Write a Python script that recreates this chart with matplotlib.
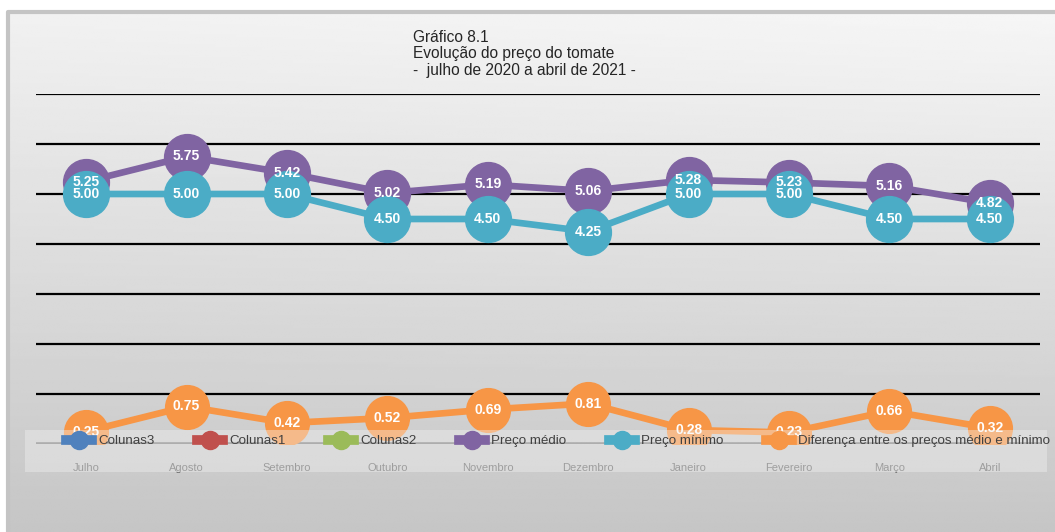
import numpy as np
import matplotlib as mpl
mpl.use("Agg")
import matplotlib.pyplot as plt
from matplotlib.lines import Line2D
from matplotlib.patches import Rectangle

plt.rcParams["font.family"] = ["Liberation Sans", "DejaVu Sans"]

# data
meses = ["Julho", "Agosto", "Setembro", "Outubro", "Novembro", "Dezembro",
         "Janeiro", "Fevereiro", "Março", "Abril"]
preco_medio = [5.25, 5.75, 5.42, 5.02, 5.19, 5.06, 5.28, 5.23, 5.16, 4.82]
preco_minimo = [5.00, 5.00, 5.00, 4.50, 4.50, 4.25, 5.00, 5.00, 4.50, 4.50]
diferenca = [0.25, 0.75, 0.42, 0.52, 0.69, 0.81, 0.28, 0.23, 0.66, 0.32]

legend_names = ["Colunas3", "Colunas1", "Colunas2", "Preço médio",
                "Preço mínimo", "Diferença entre os preços médio e mínimo"]
legend_colors = ["#4f81bd", "#c0504d", "#9bbb59", "#8064a2", "#4bacc6",
                 "#f79646"]

W, H = 1055, 532
fig = plt.figure(figsize=(W / 100, H / 100), dpi=100)
fig.patch.set_facecolor("white")

# gradient background of the chart area
bg = fig.add_axes([8 / W, 0, 1 - 8 / W, 1 - 12 / H], zorder=-10)
yy, xx = np.mgrid[0:1:200j, 0:1:200j]
shade = 0.945 - 0.17 * yy + 0.02 * xx * (1 - yy)
bg.imshow(shade, cmap="gray", vmin=0, vmax=1, aspect="auto",
          extent=[0, 1, 1, 0], interpolation="bilinear")
bg.set_xlim(0, 1)
bg.set_ylim(1, 0)
bg.axis("off")
bg.plot([0, 0, 1], [1, 0, 0], color="#c4c4c4", lw=3, clip_on=False)

ax = fig.add_axes([36 / W, 1 - 444 / H, 1004 / W, 350 / H])
ax.patch.set_alpha(0)
x = np.arange(len(meses))

for v in range(1, 8):
    ax.axhline(v, color="black", lw=1.6, zorder=1)
ax.axhline(0, color="#808080", lw=2.6, zorder=1)

ms = 33
ax.plot(x, preco_medio, color=legend_colors[3], lw=4.8, marker="o", ms=ms,
        zorder=3)
ax.plot(x, preco_minimo, color=legend_colors[4], lw=4.8, marker="o", ms=ms,
        zorder=4)
ax.plot(x, diferenca, color=legend_colors[5], lw=4.8, marker="o", ms=31.5,
        zorder=3)

for serie in (preco_medio, preco_minimo, diferenca):
    for xi, v in zip(x, serie):
        ax.text(xi, v, f"{v:.2f}", color="white", fontsize=10,
                fontweight="bold", ha="center", va="center", zorder=6)

ax.set_xlim(-0.5, len(meses) - 0.5)
ax.set_ylim(0, 7)
ax.set_xticks(x)
ax.set_xticklabels(meses, fontsize=8, color="#666666")
ax.tick_params(axis="x", length=0, pad=14)
ax.set_yticks([])
for s in ax.spines.values():
    s.set_visible(False)

# translucent legend band over the axis
fig.patches.append(Rectangle((25 / W, 1 - 472 / H), 1022 / W, 42 / H,
                             transform=fig.transFigure, facecolor="#f2f2f2",
                             alpha=0.4, edgecolor="none", zorder=2))

handles = [Line2D([], [], color=c, lw=7, marker="o", ms=13)
           for c in legend_colors]
fig.legend(handles, legend_names, loc="center left",
           bbox_to_anchor=(66 / W, 1 - 441 / H), ncol=6, frameon=False,
           fontsize=9.6, handlelength=1.95, handletextpad=0.45,
           columnspacing=3.2, borderpad=0, borderaxespad=0,
           labelcolor="#404040")

fig.text(413 / W, 1 - 30 / H,
         "Gráfico 8.1\nEvolução do preço do tomate\n-  julho de 2020 a abril de 2021 -",
         ha="left", va="top", fontsize=11.2, color="#262626", linespacing=1.12)

fig.savefig("out.png", dpi=100)
